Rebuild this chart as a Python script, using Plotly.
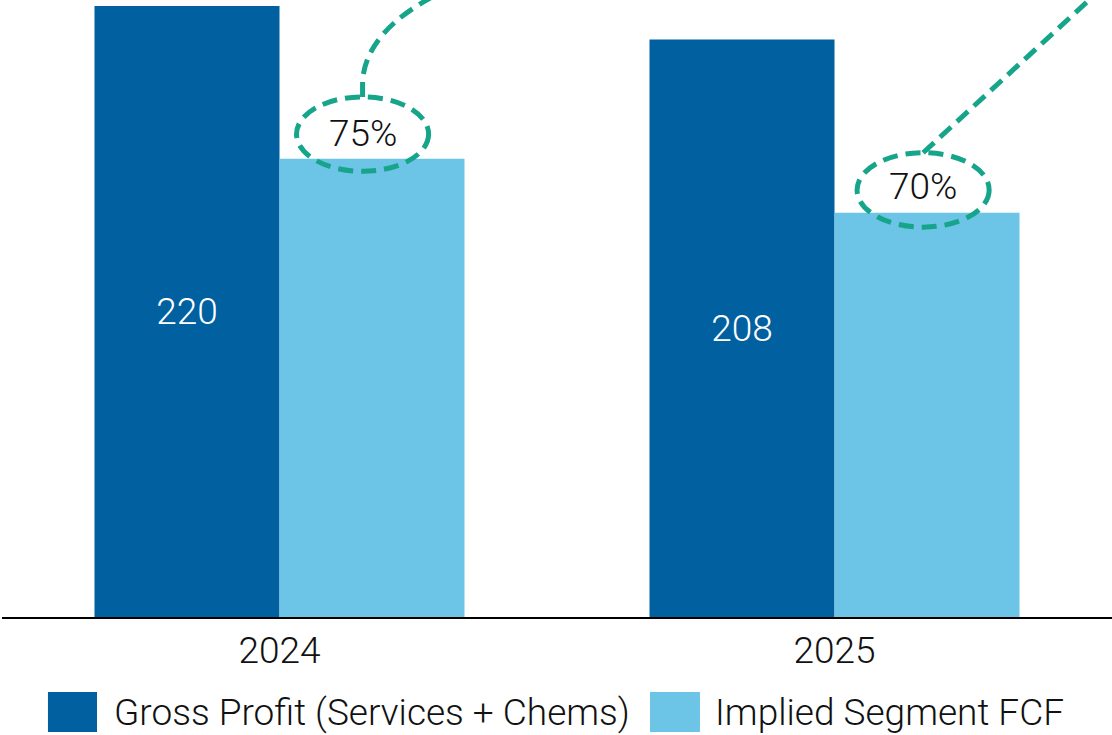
import plotly.graph_objects as go

# Chart data
years = ["2024", "2025"]
gross_profit = [220, 208]          # Gross Profit (Services + Chems)
segment_fcf = [165, 145.6]         # Implied Segment FCF
series_names = ["Gross Profit (Services + Chems)", "Implied Segment FCF"]

DARK = "#0060A0"
LIGHT = "#6CC4E6"
TEAL = "#16A58A"
FONT = dict(family="Roboto, 'Liberation Sans', sans-serif", size=37, weight=300)

x = list(range(len(years)))
conversion = [f"{round(f / g * 100):d}%" for f, g in zip(segment_fcf, gross_profit)]

fig = go.Figure()
fig.add_trace(go.Bar(
    x=x, y=gross_profit, name=series_names[0], marker=dict(color=DARK, line=dict(width=0)),
    text=[str(v) for v in gross_profit], textposition="inside", insidetextanchor="middle",
    textangle=0, textfont=dict(color="white", **FONT),
    showlegend=False, hoverinfo="skip",
))
fig.add_trace(go.Bar(
    x=x, y=segment_fcf, name=series_names[1], marker=dict(color=LIGHT, line=dict(width=0)),
    showlegend=False, hoverinfo="skip",
))

shapes = []
annotations = []

# dashed ellipses with conversion ratio above each FCF bar
ell_dx = [-0.017, -0.007]
ell_dy = [8.9, 8.2]
text_shift = [1, 3]
rx, ry = 0.119, 13.4
dash_line = dict(color=TEAL, width=5, dash="15px,8px")
for i in x:
    cx = i + 1 / 6 + ell_dx[i]
    cy = segment_fcf[i] + ell_dy[i]
    shapes.append(dict(type="circle", xref="x", yref="y", x0=cx - rx, x1=cx + rx,
                       y0=cy - ry, y1=cy + ry, line=dash_line, fillcolor="rgba(0,0,0,0)",
                       layer="above"))
    annotations.append(dict(x=cx, y=cy, xref="x", yref="y", text=conversion[i],
                            showarrow=False, yshift=text_shift[i],
                            font=dict(color="#111111", **FONT)))
    top = cy + ry
    if i == 0:
        path = (f"M {cx},{top} L {cx},{top + 6.1} "
                f"Q {cx + 0.008},{top + 24} {cx + 0.135},{top + 37}")
    else:
        path = f"M {cx},{top} L {cx + 0.31},{top + 57}"
    shapes.append(dict(type="path", xref="x", yref="y", path=path, line=dash_line,
                       layer="above"))

# legend drawn as large swatches below the axis
legend_items = [(DARK, 0.0414, 0.0856, 0.0995), (LIGHT, 0.5838, 0.6288, 0.6405)]
for (color, x0, x1, tx), name in zip(legend_items, series_names):
    shapes.append(dict(type="rect", xref="paper", yref="paper", x0=x0, x1=x1,
                       y0=-0.1864, y1=-0.1216, fillcolor=color, line=dict(width=0)))
    annotations.append(dict(x=tx, y=-0.155, xref="paper", yref="paper", text=name,
                            xanchor="left", yanchor="middle", showarrow=False,
                            font=dict(color="#111111", **FONT)))

fig.update_layout(
    width=1112, height=735,
    margin=dict(l=2, r=0, t=0, b=118),
    paper_bgcolor="white", plot_bgcolor="white",
    barmode="group", bargap=1 / 3, bargroupgap=0,
    font=dict(color="#111111", **FONT),
    xaxis=dict(range=[-0.5, 1.5], tickvals=x, ticktext=years, showgrid=False,
               zeroline=False, showline=True, linecolor="black", linewidth=2,
               ticks="", tickfont=dict(color="#111111", **FONT), fixedrange=True),
    yaxis=dict(range=[0, 222.2], visible=False, showgrid=False, zeroline=False,
               fixedrange=True),
    shapes=shapes, annotations=annotations,
    showlegend=False,
)

fig.write_html("out.html")
